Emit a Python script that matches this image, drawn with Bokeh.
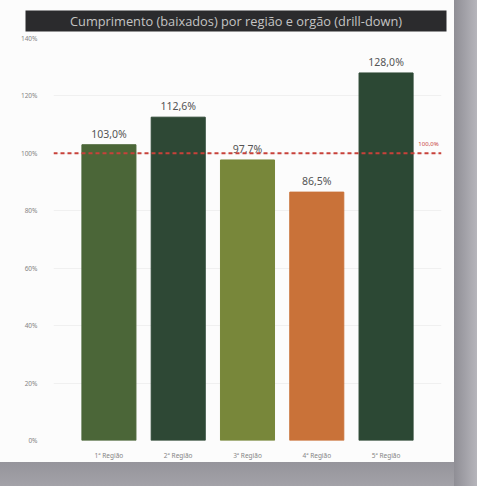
from bokeh.plotting import figure
from bokeh.layouts import column, row
from bokeh.models import (ColumnDataSource, Span, Label, PrintfTickFormatter, FactorRange)
from bokeh.core.properties import value
from bokeh.embed import file_html
from bokeh.resources import INLINE

# ---- data ----
regions = ["1ª Região", "2ª Região", "3ª Região", "4ª Região", "5ª Região"]
compliance = [103.0, 112.6, 97.7, 86.5, 128.0]
bar_colors = ["#4b6638", "#2e4835", "#78873a", "#c97239", "#2c4834"]
target = 100.0
y_ticks = [0, 20, 40, 60, 80, 100, 120, 140]
title_text = "Cumprimento (baixados) por região e orgão (drill-down)"

CARD = "#fcfcfc"

# ---- title bar (separate small figure) ----
pt = figure(width=454, height=33, output_backend="svg", toolbar_location=None,
            x_range=(0, 1), y_range=(0, 1), x_axis_location=None, y_axis_location=None,
            min_border_left=25, min_border_right=8, min_border_top=10, min_border_bottom=2)
pt.background_fill_color = "#2b2b2d"
pt.border_fill_color = CARD
pt.outline_line_color = None
pt.grid.visible = False
pt.add_layout(Label(x=0.5, y=0.5, text=title_text, text_align="center",
                    text_baseline="middle", text_font="Open Sans",
                    text_font_size="12.8px", text_color="#c4c4c4"))

# ---- main chart ----
labels = [f"{v:.1f}".replace(".", ",") + "%" for v in compliance]
src = ColumnDataSource(dict(x=regions, top=compliance, color=bar_colors, label=labels))

p = figure(width=454, height=429, output_backend="svg", toolbar_location=None,
           x_range=FactorRange(*regions, range_padding=0.12, range_padding_units="percent"),
           y_range=(0, 140),
           min_border_left=53, min_border_right=13, min_border_top=5, min_border_bottom=21)
p.background_fill_color = CARD
p.border_fill_color = CARD
p.outline_line_color = None

p.vbar(x="x", top="top", width=0.78, color="color", source=src)
p.text(x="x", y="top", text="label", source=src, text_align="center",
       text_baseline="bottom", y_offset=-4, text_font=value("Noto Sans"),
       text_font_size="10.5px", text_color="#555555")

# target line
p.add_layout(Span(location=target, dimension="width", line_color="#c8413a",
                  line_dash="4 3", line_width=2))
p.add_layout(Label(x=375, y=target, x_units="screen", text="100,0%",
                   text_align="center", text_baseline="bottom", y_offset=5,
                   text_font="Noto Sans", text_font_size="6px", text_color="#c8413a"))

# axes
p.yaxis.ticker = y_ticks
p.yaxis.formatter = PrintfTickFormatter(format="%d%%")
for ax in (p.xaxis[0], p.yaxis[0]):
    ax.axis_line_color = None
    ax.major_tick_line_color = None
    ax.minor_tick_line_color = None
    ax.major_label_text_font = "Noto Sans"
    ax.major_label_text_color = "#858585"
p.yaxis.major_label_text_font_size = "6.5px"
p.yaxis.major_label_standoff = 10
p.xaxis.major_label_text_font_size = "6.5px"
p.xaxis.major_label_standoff = 4
p.xgrid.grid_line_color = None
p.ygrid.grid_line_color = "#f0f0f0"

# card on a grey (photo shadow) background
bg = ("linear-gradient(to right, rgba(0,0,0,0) 454px, #8f8e95 454px, #b6b5bb 100%), "
      "linear-gradient(to bottom, #fcfcfc 462px, #95949b 462px, #a3a2a8 100%)")
page = column(row(pt), p, width=477, height=486, spacing=0, styles={"background": bg})

open("out.html", "w").write(file_html(page, INLINE))
